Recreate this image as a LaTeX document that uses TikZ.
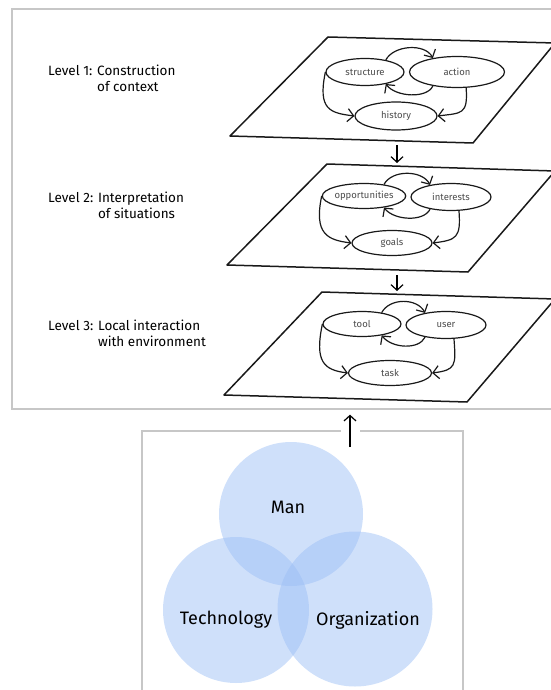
\documentclass[tikz,border=0pt]{standalone}
\usepackage{fontspec}
\setmainfont{Fira Sans}
\usetikzlibrary{arrows.meta,shapes.geometric}
\definecolor{venn}{RGB}{155,190,245}
\begin{document}
\begin{tikzpicture}[x=1pt,y=-1pt,
  frame/.style={draw=black!22,line width=1.3pt,inner sep=0pt},
  plane/.style={draw=black!90,line width=1.5pt,line join=round},
  oval/.style={ellipse,draw=black!90,line width=1.2pt,inner sep=0pt,
    font=\fontsize{9.5}{11}\selectfont,text=black!70},
  cyc/.style={draw=black!90,line width=1.2pt,
    -{Straight Barb[length=6pt,width=13pt,line width=1.2pt]}},
  darr/.style={draw=black,line width=1.2pt,
    -{Straight Barb[length=5.5pt,width=12pt,line width=1.2pt]}},
  levlab/.style={anchor=west,inner sep=0pt,text=black,
    font=\fontsize{13.5}{16}\selectfont},
  circ/.style={circle,draw=none,fill=venn,fill opacity=0.48,inner sep=0pt},
  vlab/.style={inner sep=0pt,text=black,font=\fontsize{18}{20}\selectfont}
]
\useasboundingbox (0,0) rectangle (550,690);

% frames
\node[frame,minimum width=544pt,minimum height=400pt] (topframe) at (284,209) {};
\node[frame,minimum width=321pt,minimum height=280pt] (botframe) at (302.5,571) {};
\fill[white] (341,427) rectangle (360,435);

% level labels
\node[levlab] (lev1) at (48,80) {\begin{tabular}{@{}l@{ }l@{}}Level 1: & Construction\\ & of context\end{tabular}};
\node[levlab] (lev2) at (48,207) {\begin{tabular}{@{}l@{ }l@{}}Level 2: & Interpretation\\ & of situations\end{tabular}};
\node[levlab] (lev3) at (48,335) {\begin{tabular}{@{}l@{ }l@{}}Level 3: & Local interaction\\ & with environment\end{tabular}};

% planes
\coordinate (p1a) at (328,37); \coordinate (p1b) at (555,43);
\coordinate (p1c) at (473,143); \coordinate (p1d) at (230,136);
\draw[plane] (p1a) -- (p1b) -- (p1c) -- (p1d) -- cycle;
\coordinate (p2a) at (327,164); \coordinate (p2b) at (555,171);
\coordinate (p2c) at (468,272); \coordinate (p2d) at (227,265);
\draw[plane] (p2a) -- (p2b) -- (p2c) -- (p2d) -- cycle;
\coordinate (p3a) at (322,292); \coordinate (p3b) at (555,299);
\coordinate (p3c) at (467,402); \coordinate (p3d) at (224,395);
\draw[plane] (p3a) -- (p3b) -- (p3c) -- (p3d) -- cycle;

% level 1 cycle
\node[oval,minimum width=78pt,minimum height=27pt] (s1) at (365,72) {structure};
\node[oval,minimum width=95pt,minimum height=31pt] (a1) at (457,72) {action};
\node[oval,minimum width=82pt,minimum height=28pt] (h1) at (396,116) {history};
\draw[cyc] (s1.30) .. controls +(8,-15) and +(-8,-15) .. (a1.150);
\draw[cyc] (a1.210) .. controls +(-6,13) and +(10,13) .. (s1.330);
\draw[cyc] (s1.180) .. controls +(-8,38) and +(-24,-3) .. (h1.west);
\draw[cyc] (a1.300) .. controls +(2,27) and +(24,-3) .. (h1.east);

% level 2 cycle
\node[oval,minimum width=80pt,minimum height=25pt] (o2) at (364,196) {opportunities};
\node[oval,minimum width=80pt,minimum height=27pt] (i2) at (451,197) {interests};
\node[oval,minimum width=80pt,minimum height=25pt] (g2) at (392,243) {goals};
\draw[cyc] (o2.30) .. controls +(8,-15) and +(-8,-15) .. (i2.150);
\draw[cyc] (i2.210) .. controls +(-6,13) and +(10,13) .. (o2.330);
\draw[cyc] (o2.180) .. controls +(-8,38) and +(-24,-3) .. (g2.west);
\draw[cyc] (i2.300) .. controls +(2,27) and +(24,-3) .. (g2.east);

% level 3 cycle
\node[oval,minimum width=78pt,minimum height=25pt] (t3) at (362,324) {tool};
\node[oval,minimum width=80pt,minimum height=27pt] (u3) at (446,325) {user};
\node[oval,minimum width=83pt,minimum height=25pt] (k3) at (390,373) {task};
\draw[cyc] (t3.30) .. controls +(8,-15) and +(-8,-15) .. (u3.150);
\draw[cyc] (u3.210) .. controls +(-6,13) and +(10,13) .. (t3.330);
\draw[cyc] (t3.180) .. controls +(-8,38) and +(-24,-3) .. (k3.west);
\draw[cyc] (u3.300) .. controls +(2,27) and +(24,-3) .. (k3.east);

% arrows between planes
\coordinate (d1s) at (397,145); \coordinate (d1e) at (397,163);
\draw[darr] (d1s) -- (d1e);
\coordinate (d2s) at (397,275); \coordinate (d2e) at (397,291);
\draw[darr] (d2s) -- (d2e);

% venn
\node[circ,minimum size=144pt] (man) at (291,514) {};
\node[circ,minimum size=146pt] (tech) at (236,610) {};
\node[circ,minimum size=155pt] (org) at (355,609) {};
\node[vlab] (manl) at (288,507) {Man};
\node[vlab] (techl) at (226,620) {Technology};
\node[vlab] (orgl) at (368,620) {Organization};

% arrow from venn box to levels
\coordinate (upt) at (350,447);
\draw[darr,shorten >=5pt] (upt) -- (upt |- topframe.south);
\end{tikzpicture}
\end{document}
